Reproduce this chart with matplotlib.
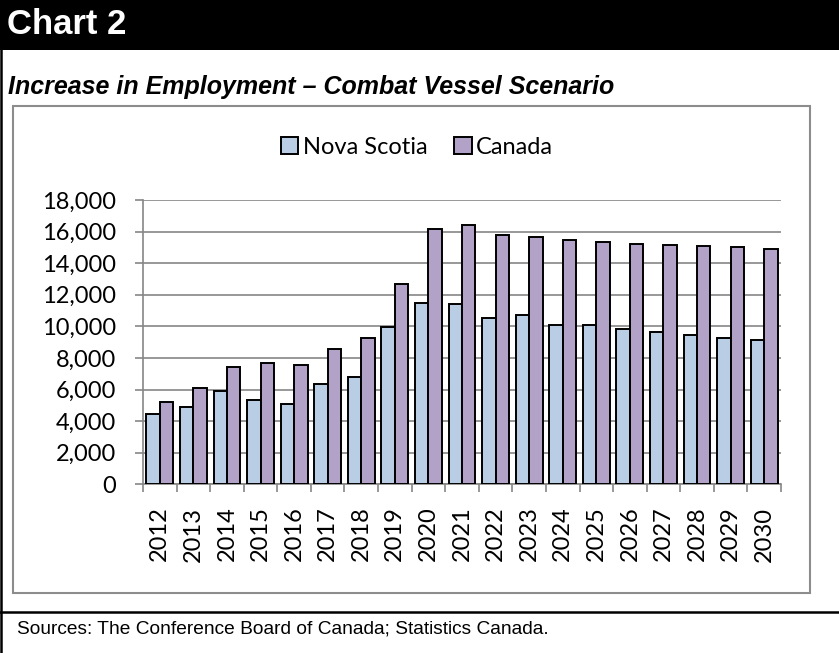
import matplotlib
matplotlib.use("Agg")
import matplotlib.pyplot as plt
from matplotlib.patches import Rectangle
from matplotlib.lines import Line2D
from matplotlib.ticker import FuncFormatter, FixedLocator
import numpy as np

years = [str(y) for y in range(2012, 2031)]
nova_scotia = [4430, 4870, 5910, 5360, 5080, 6330, 6790, 9960, 11470, 11390, 10510,
               10720, 10110, 10060, 9810, 9640, 9470, 9280, 9140]
canada = [5210, 6080, 7410, 7680, 7570, 8540, 9280, 12680, 16160, 16410, 15780,
          15630, 15460, 15340, 15190, 15150, 15060, 15000, 14920]
series_names = ["Nova Scotia", "Canada"]
header_text = "Chart 2"
title_text = "Increase in Employment \u2013 Combat Vessel Scenario"
source_text = "Sources: The Conference Board of Canada; Statistics Canada."

W, H = 839, 653
fig = plt.figure(figsize=(W / 100, H / 100), dpi=100)

def fx(px):
    return px / W

def fy(py):
    return 1 - py / H

# header bar
fig.patches.append(Rectangle((0, fy(50)), 1, 50 / H, transform=fig.transFigure,
                             facecolor="black", edgecolor="none", zorder=0))
fig.text(fx(7), fy(25), header_text, color="white", fontsize=25, fontweight="bold",
         family="Liberation Sans", va="center", ha="left")
fig.text(fx(8), fy(87), title_text, color="black", fontsize=18, fontweight="bold",
         style="italic", family="Liberation Sans", va="center", ha="left")

# left border and separator
fig.lines.append(Line2D([fx(1.2), fx(1.2)], [fy(50), 0], transform=fig.transFigure,
                        color="black", lw=1.8))
fig.lines.append(Line2D([0, 1], [fy(611.5), fy(611.5)], transform=fig.transFigure,
                        color="black", lw=1.8))
# inner chart box
fig.patches.append(Rectangle((fx(13), fy(593)), fx(810) - fx(13), fy(105.5) - fy(593),
                             transform=fig.transFigure, facecolor="none",
                             edgecolor="#8c8c8c", lw=1.5))
fig.text(fx(17), fy(629), source_text, color="black", fontsize=13.8,
         family="Liberation Sans", va="center", ha="left")

ax = fig.add_axes([fx(143), fy(484.3), fx(781) - fx(143), (484.3 - 200) / H])
x = np.arange(len(years))
bw = 0.4
edge = "black"
ax.bar(x - bw / 2, nova_scotia, width=bw, color="#B9CDE5", edgecolor=edge, lw=1.4,
       label=series_names[0], zorder=3)
ax.bar(x + bw / 2, canada, width=bw, color="#B3A2C7", edgecolor=edge, lw=1.4,
       label=series_names[1], zorder=3)

ax.set_xlim(-0.5, len(years) - 0.5)
ax.set_ylim(0, 18000)
ax.set_yticks(np.arange(0, 18001, 2000))
ax.yaxis.set_major_formatter(FuncFormatter(lambda v, p: f"{int(v):,}"))
ax.grid(axis="y", color="#868686", lw=1.2, zorder=0)
for s in ["top", "right"]:
    ax.spines[s].set_visible(False)
for s in ["left", "bottom"]:
    ax.spines[s].set_color("#868686")
    ax.spines[s].set_linewidth(1.2)

ax.set_xticks(x)
ax.set_xticklabels(years, rotation=90)
ax.xaxis.set_minor_locator(FixedLocator(np.arange(-0.5, len(years), 1.0)))
ax.tick_params(axis="x", which="major", length=0, pad=16)
ax.tick_params(axis="x", which="minor", length=6, width=1.2, color="#868686")
ax.tick_params(axis="y", length=6, width=1.2, color="#868686", pad=13.5)
for lab in ax.get_yticklabels() + ax.get_xticklabels():
    lab.set_family(["Lato", "DejaVu Sans"])
    lab.set_fontsize(17)

leg = fig.legend(loc="center", bbox_to_anchor=(fx(417), fy(147)), ncol=2, frameon=False,
                 prop={"family": "Lato", "size": 17}, handlelength=0.75,
                 handleheight=0.75, handletextpad=0.2, columnspacing=1.1)

fig.savefig("out.png", dpi=100)
